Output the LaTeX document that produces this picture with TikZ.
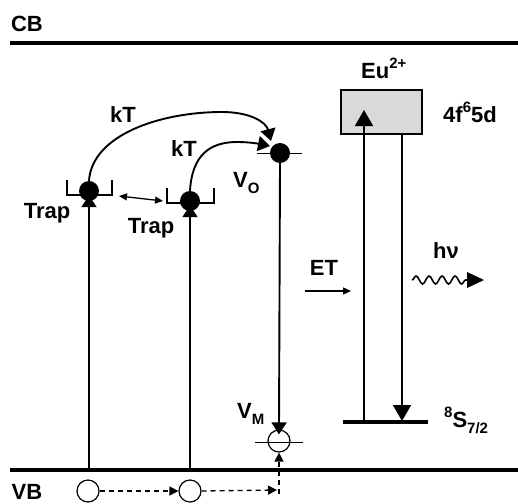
\documentclass[tikz,border=0pt]{standalone}
\usepackage{fontspec}
\setmainfont{Liberation Sans}
\usetikzlibrary{arrows.meta,decorations.pathmorphing}
\newcommand{\sub}[1]{\raisebox{-0.3em}{\fontsize{15}{15}\selectfont #1}}
\newcommand{\supr}[1]{\raisebox{0.45em}{\fontsize{15}{15}\selectfont #1}}
\begin{document}
\begin{tikzpicture}[x=1pt,y=-1pt,
 lbl/.style={font=\fontsize{22}{25}\selectfont\bfseries, inner sep=0pt},
 band/.style={line width=4pt},
 vl/.style={line width=1.9pt},
 thin/.style={line width=1.3pt},
 dotn/.style={circle, fill=black, minimum size=20pt, inner sep=0pt},
 holen/.style={circle, draw=black, line width=1.2pt, minimum size=22pt, inner sep=0pt},
 tri/.style={-{Triangle[length=12pt,width=15pt]}},
 smalltri/.style={-{Triangle[length=9pt,width=9pt]}},
 bigtri/.style={-{Triangle[length=16pt,width=18pt]}},
 dsh/.style={dash pattern=on 5pt off 4pt, line width=1.3pt},
]
\useasboundingbox (0,0) rectangle (518,503);

% bands
\node[lbl, anchor=base] (cb) at (27,32) {CB};
\node[lbl, anchor=base] (vb) at (27,499) {VB};
\coordinate (cbL) at (10,43); \coordinate (cbR) at (518,43);
\coordinate (vbL) at (10,470); \coordinate (vbR) at (518,470);
\draw[band] (cbL) -- (cbR);
\draw[band] (vbL) -- (vbR);

% trap 1
\node[dotn] (t1) at (89,191) {};
\draw[thin] (67,180) -- (67,195) -- (112,195) -- (112,180);
\coordinate (t1b) at (89,470);
\draw[vl,tri,shorten >=-6pt] (t1b) -- (t1.south);
\node[lbl, anchor=base] (trap1) at (47,218) {Trap};

% trap 2
\node[dotn] (t2) at (190,201) {};
\draw[thin] (167,188) -- (167,203) -- (214,203) -- (214,188);
\coordinate (t2b) at (190,470);
\draw[vl,tri,shorten >=-6pt] (t2b) -- (t2.south);
\node[lbl, anchor=base] (trap2) at (151,233) {Trap};

% double arrow between traps
\coordinate (da1) at (119,196); \coordinate (da2) at (163,201);
\draw[thin,{Triangle[length=8pt,width=7pt]}-{Triangle[length=8pt,width=7pt]}] (da1) -- (da2);

% V_O
\node[dotn] (vo) at (280,153) {};
\coordinate (voL) at (257,153); \coordinate (voR) at (302,153);
\draw[line width=1pt] (voL) -- (voR);
\node[lbl, anchor=base west] (volbl) at (233,187) {V\sub{O}};

% kT arcs
\coordinate (k1e) at (271,141);
\draw[vl,tri] (t1.north) .. controls (92,135) and (160,112) .. (222,112)
  .. controls (250,112) and (266,122) .. (k1e);
\node[lbl, anchor=base] (kt1) at (123,122) {kT};
\coordinate (k2e) at (270,146);
\draw[vl,tri] (t2.north) .. controls (192,155) and (210,142) .. (237,142)
  .. controls (250,142) and (260,144) .. (k2e);
\node[lbl, anchor=base] (kt2) at (184,156) {kT};

% V_M
\node[holen] (vm) at (279,441) {};
\coordinate (vmL) at (255,442); \coordinate (vmR) at (303,442);
\draw[line width=1pt] (vmL) -- (vmR);
\draw[vl,tri,shorten >=-5pt] (vo.south) -- (vm.north);
\node[lbl, anchor=base west] (vmlbl) at (237,418) {V\sub{M}};

% holes in VB
\node[holen] (h1) at (88,491) {};
\node[holen] (h2) at (190,491) {};
\coordinate (hE) at (277,490);
\coordinate (hB) at (279,494);
\draw[dsh,smalltri] (h1.east) -- (h2.west);
\draw[dsh,smalltri] (h2.east) -- (hE);
\draw[dsh,smalltri] (hB) -- (vm.south);

% ET
\node[lbl, anchor=base] (et) at (324,275) {ET};
\coordinate (et1) at (305,291); \coordinate (et2) at (351,291);
\draw[thin,-{Triangle[length=8pt,width=7pt]}] (et1) -- (et2);

% Eu2+ centre
\node[draw, line width=1.8pt, fill=black!15, minimum width=81pt, minimum height=44pt, inner sep=0pt] (eu) at (381.5,112) {};
\node[lbl, anchor=base west] (eulbl) at (361,78) {Eu\supr{2+}};
\node[lbl, anchor=base west] (fd) at (443,122) {4f\supr{6}5d};
\coordinate (sL) at (343,422); \coordinate (sR) at (428,422);
\draw[line width=3.5pt] (sL) -- (sR);
\node[lbl, anchor=base west] (slbl) at (444,427) {\supr{8}S\sub{7/2}};
\coordinate (upB) at (364,422); \coordinate (upT) at (364,110);
\draw[vl,bigtri] (upB) -- (upT);
\coordinate (dnT) at (402,134); \coordinate (dnB) at (402,421);
\draw[vl,bigtri] (dnT) -- (dnB);

% h nu
\node[lbl, anchor=base west] (hv) at (433,258) {hν};
\coordinate (w1) at (412,280); \coordinate (w2) at (469,280);
\draw[line width=1.6pt, decorate, decoration={snake, segment length=13pt, amplitude=4pt}] (w1) -- (w2);
\fill (467,272) -- (484,280) -- (467,288) -- cycle;
\end{tikzpicture}
\end{document}
